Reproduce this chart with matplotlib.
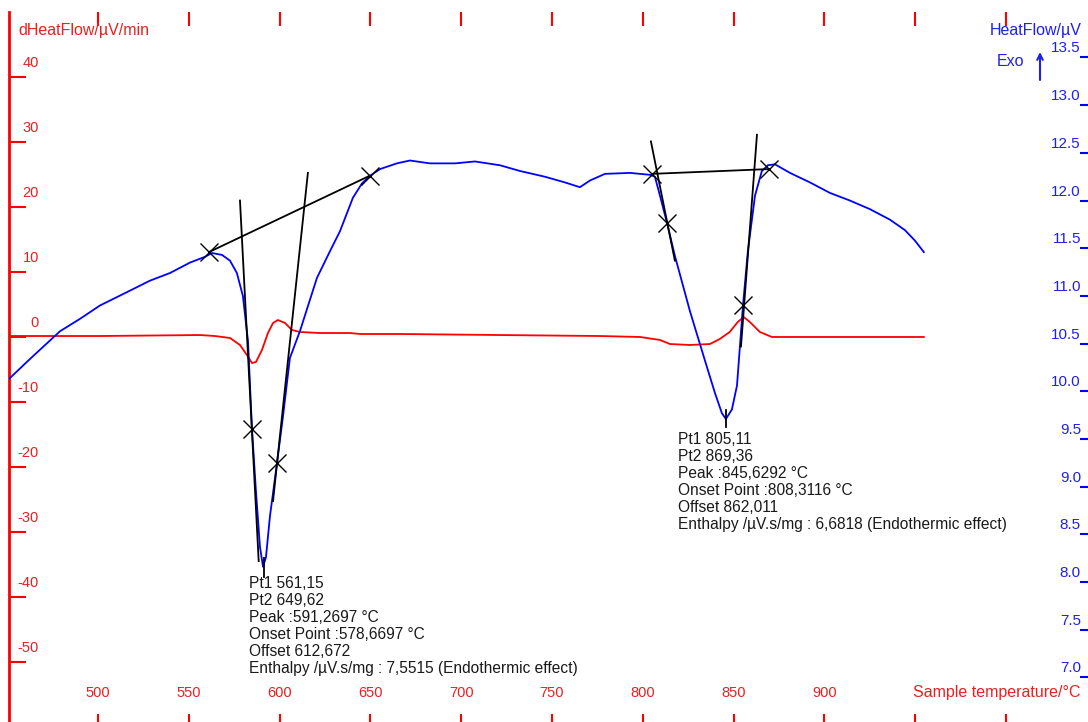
import matplotlib
matplotlib.use("Agg")
import matplotlib.pyplot as plt
import matplotlib.transforms as mtransforms
import numpy as np

plt.rcParams['font.family'] = ['Liberation Sans', 'DejaVu Sans']

# ---------------- data ----------------
# HeatFlow (µV), right axis
heat_T = [451.0, 462.6, 479.1, 490.1, 501.1, 514.9, 528.6, 539.6, 550.7, 558.9,
          562.8, 568.3, 572.7, 576.5, 579.8, 582.6, 584.8, 587.0, 589.2, 590.9,
          592.5, 594.7, 598.6, 601.9, 605.7, 611.2, 620.6, 628.3, 633.3, 640.4,
          645.4, 649.8, 655.3, 664.6, 671.8, 682.8, 696.6, 707.6, 721.4, 732.4,
          746.1, 757.2, 765.4, 770.9, 779.2, 793.0, 804.0, 806.7, 809.5, 813.3,
          817.7, 826.0, 834.3, 839.8, 843.6, 845.8, 849.1, 851.9, 855.2, 857.9,
          861.8, 865.6, 868.9, 872.8, 881.1, 892.1, 903.1, 914.1, 925.1, 936.1,
          944.4, 949.9, 954.8]
heat_v = [10.13, 10.34, 10.63, 10.76, 10.90, 11.03, 11.16, 11.24, 11.35, 11.41,
          11.45, 11.43, 11.37, 11.24, 11.00, 10.53, 9.61, 8.95, 8.37, 8.16,
          8.26, 8.69, 9.25, 9.74, 10.35, 10.63, 11.19, 11.49, 11.68, 12.03,
          12.18, 12.26, 12.33, 12.39, 12.42, 12.39, 12.39, 12.41, 12.37, 12.31,
          12.25, 12.19, 12.14, 12.21, 12.28, 12.29, 12.27, 12.25, 12.05, 11.77,
          11.42, 10.84, 10.32, 9.98, 9.77, 9.71, 9.81, 10.06, 10.90, 11.47,
          12.05, 12.31, 12.37, 12.38, 12.29, 12.19, 12.08, 12.00, 11.91, 11.80,
          11.69, 11.58, 11.46]

# dHeatFlow (µV/min), left axis
dheat_T = [451.0, 501.0, 556.2, 564.4, 572.7, 578.2, 582.0, 584.8, 587.0, 590.3,
           593.6, 596.4, 599.1, 603.0, 606.8, 611.2, 622.2, 638.8, 644.3, 666.3,
           721.4, 776.4, 798.5, 809.5, 815.0, 826.0, 837.0, 842.4, 847.9, 852.3,
           855.6, 859.0, 864.5, 871.1, 914.1, 954.8]
dheat_v = [0.15, 0.15, 0.30, 0.15, -0.15, -1.23, -2.76, -4.00, -3.84, -2.00,
           0.61, 2.15, 2.61, 2.15, 1.08, 0.77, 0.61, 0.61, 0.46, 0.46,
           0.30, 0.15, 0.00, -0.46, -1.08, -1.23, -1.08, -0.31, 0.77, 2.30,
           3.07, 2.30, 0.77, 0.00, 0.00, 0.00]

# construction lines (T, HeatFlow) for the two peak evaluations
peak1_baseline_T = [561.15, 649.62]
peak1_baseline_v = [11.46, 12.26]
peak1_tan1_T = [578.2, 588.5]
peak1_tan1_v = [12.00, 8.22]
peak1_tan2_T = [615.6, 596.4]
peak1_tan2_v = [12.29, 8.85]
peak1_marks_T = [561.15, 649.62, 584.8, 598.6]
peak1_marks_v = [11.46, 12.26, 9.61, 9.25]
peak1_min_T = 591.27
peak1_min_v = [8.25, 8.05]

peak2_baseline_T = [805.11, 869.36]
peak2_baseline_v = [12.28, 12.33]
peak2_tan1_T = [804.5, 817.7]
peak2_tan1_v = [12.62, 11.37]
peak2_tan2_T = [862.9, 854.1]
peak2_tan2_v = [12.69, 10.47]
peak2_marks_T = [805.11, 869.36, 813.3, 855.2]
peak2_marks_v = [12.28, 12.33, 11.77, 10.90]
peak2_min_T = 845.63
peak2_min_v = [9.80, 9.63]

peak1_text = ["Pt1 561,15", "Pt2 649,62", "Peak :591,2697 \u00b0C",
              "Onset Point :578,6697 \u00b0C", "Offset 612,672",
              "Enthalpy /\u00b5V.s/mg : 7,5515 (Endothermic effect)"]
peak1_text_pos = (583.0, 7.99)
peak2_text = ["Pt1 805,11", "Pt2 869,36", "Peak :845,6292 \u00b0C",
              "Onset Point :808,3116 \u00b0C", "Offset 862,011",
              "Enthalpy /\u00b5V.s/mg : 6,6818 (Endothermic effect)"]
peak2_text_pos = (819.5, 9.50)

x_ticks = [500, 550, 600, 650, 700, 750, 800, 850, 900, 950, 1000]
x_ticklabels = ["500", "550", "600", "650", "700", "750", "800", "850", "900", "", ""]
left_ticks = [40, 30, 20, 10, 0, -10, -20, -30, -40, -50]
right_ticks = [13.5, 13.0, 12.5, 12.0, 11.5, 11.0, 10.5, 10.0, 9.5, 9.0, 8.5, 8.0, 7.5, 7.0]

# ---------------- figure ----------------
W, H = 1088, 722
fig = plt.figure(figsize=(W / 100, H / 100), dpi=100)
ax = fig.add_axes([9 / W, 0, 1 - 9 / W, 1 - 12 / H])
ax2 = ax.twinx()

ax.set_xlim(451.0, 1045.2)
ax.set_ylim(-59.14, 49.92)
ax2.set_ylim(6.533, 13.977)

RED = '#ff0000'
BLUE = '#0000ff'
RED_T = '#e82020'
BLUE_T = '#2020e8'

ax.plot(dheat_T, dheat_v, color=RED, lw=1.3, zorder=3)
ax2.plot(heat_T, heat_v, color=BLUE, lw=1.3, zorder=2)

for Ts, vs in [(peak1_baseline_T, peak1_baseline_v), (peak1_tan1_T, peak1_tan1_v),
               (peak1_tan2_T, peak1_tan2_v), (peak2_baseline_T, peak2_baseline_v),
               (peak2_tan1_T, peak2_tan1_v), (peak2_tan2_T, peak2_tan2_v)]:
    ax2.plot(Ts, vs, color='black', lw=1.3, zorder=4)
ax2.plot([peak1_min_T, peak1_min_T], peak1_min_v, color='black', lw=1.3, zorder=4)
ax2.plot([peak2_min_T, peak2_min_T], peak2_min_v, color='black', lw=1.3, zorder=4)
ax2.plot(peak1_marks_T, peak1_marks_v, ls='none', marker='x', ms=13, mew=1.0,
         color='black', zorder=5)
ax2.plot(peak2_marks_T, peak2_marks_v, ls='none', marker='x', ms=13, mew=1.0,
         color='black', zorder=5)

# annotation text blocks
for lines, (tx, ty) in [(peak1_text, peak1_text_pos), (peak2_text, peak2_text_pos)]:
    for i, s in enumerate(lines):
        tr = mtransforms.offset_copy(ax2.transData, fig=fig, x=0, y=-17 * i, units='dots')
        ax2.text(tx, ty, s, transform=tr, ha='left', va='center', fontsize=11.2,
                 color='#1a1a1a')

# spines
for s in ['top', 'right', 'bottom']:
    ax.spines[s].set_visible(False)
ax.spines['left'].set_color(RED)
ax.spines['left'].set_linewidth(2)
for s in ['top', 'right', 'bottom', 'left']:
    ax2.spines[s].set_visible(False)

# x ticks (bottom) and top ticks
ax.set_xticks(x_ticks)
ax.tick_params(axis='x', direction='in', length=6, width=1.5, color=RED,
               labelbottom=False, bottom=True, top=False)
sec = ax.secondary_xaxis('top')
sec.set_xticks(x_ticks)
sec.tick_params(direction='in', length=10, width=1.5, color=RED, labeltop=False)
sec.spines['top'].set_visible(False)
tr_x = mtransforms.offset_copy(
    mtransforms.blended_transform_factory(ax.transData, ax.transAxes),
    fig=fig, x=0, y=29, units='dots')
for t, lab in zip(x_ticks, x_ticklabels):
    if lab:
        ax.text(t, 0, lab, transform=tr_x, ha='center', va='center', fontsize=10.5,
                color=RED_T)

# left y ticks
ax.set_yticks(left_ticks)
ax.tick_params(axis='y', direction='in', length=12, width=1.5, color=RED,
               labelleft=False, left=True, right=False)
tr_l = mtransforms.offset_copy(
    mtransforms.blended_transform_factory(ax.transAxes, ax.transData),
    fig=fig, x=30, y=14, units='dots')
for v in left_ticks:
    ax.text(0, v, f"{v}", transform=tr_l, ha='right', va='center', fontsize=10.5,
            color=RED_T)

# right y ticks
ax2.set_yticks(right_ticks)
ax2.tick_params(axis='y', direction='in', length=6, width=1.5, color=BLUE,
                labelright=False, right=True, left=False)
tr_r = mtransforms.offset_copy(
    mtransforms.blended_transform_factory(ax2.transAxes, ax2.transData),
    fig=fig, x=-7, y=9, units='dots')
for v in right_ticks:
    ax2.text(1, v, f"{v:.1f}", transform=tr_r, ha='right', va='center', fontsize=11,
             color=BLUE_T)

# axis titles
fig.text(18 / W, 1 - 30 / H, "dHeatFlow/\u00b5V/min", ha='left', va='center',
         fontsize=11.5, color=RED_T)
fig.text(1082 / W, 1 - 31 / H, "HeatFlow/\u00b5V", ha='right', va='center',
         fontsize=11.5, color=BLUE_T)
fig.text(997 / W, 1 - 62 / H, "Exo", ha='left', va='center', fontsize=11.5,
         color=BLUE_T)
ax2.annotate('', xy=(1040, H - 52), xytext=(1040, H - 80), xycoords='figure pixels',
             textcoords='figure pixels',
             arrowprops=dict(arrowstyle='->', color=BLUE_T, lw=1.5,
                             shrinkA=0, shrinkB=0))
fig.text(913 / W, 1 - 693 / H, "Sample temperature/\u00b0C", ha='left', va='center',
         fontsize=11.5, color=RED_T)

fig.savefig("out.png", dpi=100)
